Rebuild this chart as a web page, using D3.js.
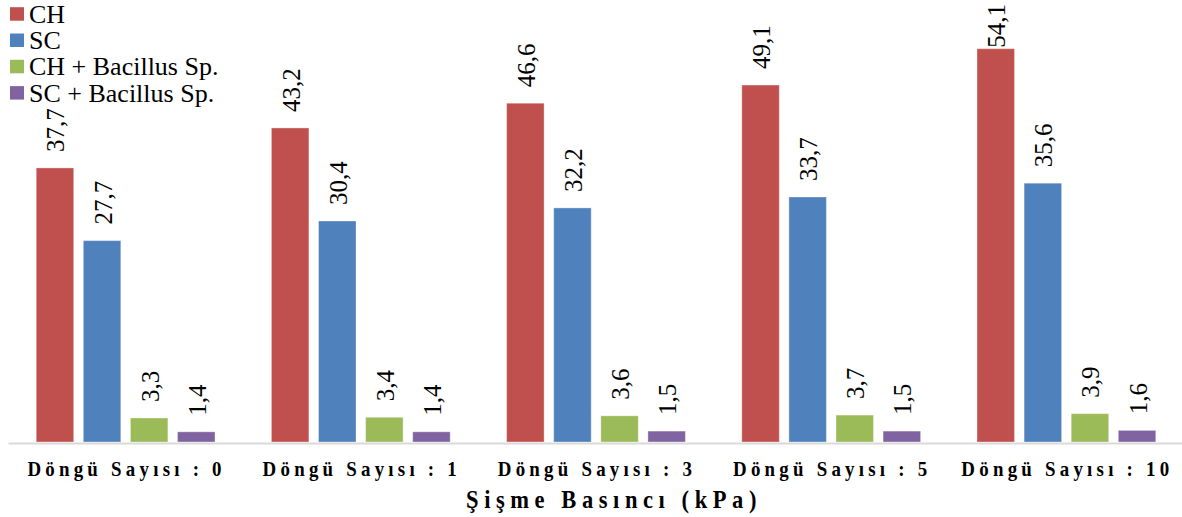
<!DOCTYPE html>
<html><head><meta charset="utf-8">
<script src="https://cdn.jsdelivr.net/npm/d3@7"></script>
<style>body{margin:0;background:#fff}svg{display:block}text{font-family:"Liberation Serif","Times New Roman",Times,"DejaVu Serif",serif}</style>
</head><body><svg id="c" width="1182" height="517"></svg>
<script>
const categories = ["Döngü Sayısı : 0","Döngü Sayısı : 1","Döngü Sayısı : 3","Döngü Sayısı : 5","Döngü Sayısı : 10"];
const seriesNames = ["CH","SC","CH + Bacillus Sp.","SC + Bacillus Sp."];
const chValues = [37.7,43.2,46.6,49.1,54.1];
const scValues = [27.7,30.4,32.2,33.7,35.6];
const chBacValues = [3.3,3.4,3.6,3.7,3.9];
const scBacValues = [1.4,1.4,1.5,1.5,1.6];
const colors = ["#C0504D","#4F81BD","#9BBB59","#8064A2"];
const axisTitle = "Şişme Basıncı (kPa)";
const yDomain = [0,60];

const allValues = [chValues,scValues,chBacValues,scBacValues];
const svg = d3.select("#c");

const x0 = d3.scaleBand().domain(categories).range([8,1184]).paddingInner(0).paddingOuter(0);
const x1 = d3.scaleBand().domain(seriesNames).range([0,x0.bandwidth()]).paddingInner(0.204).paddingOuter(0.599);
const y = d3.scaleLinear().domain(yDomain).range([442,5.8]);

const rows = [];
categories.forEach((c,i)=>seriesNames.forEach((s,j)=>rows.push({c,s,j,v:allValues[j][i]})));

// bars
svg.append("g").selectAll("rect").data(rows).join("rect")
  .attr("x",d=>x0(d.c)+x1(d.s))
  .attr("y",d=>y(d.v))
  .attr("width",x1.bandwidth())
  .attr("height",d=>y(0)-y(d.v))
  .attr("fill",d=>colors[d.j])
  .attr("stroke","rgba(255,255,255,0.35)").attr("stroke-width",1);

// axis line
const xa = svg.append("g").attr("transform",`translate(0,${y(0)+1})`).call(d3.axisBottom(x0).tickSize(0).tickFormat(""));
xa.select(".domain").attr("stroke","#D9D9D9").attr("stroke-width",2);

// category labels (condensed, letter-spaced)
svg.append("g").selectAll("text").data(categories).join("text")
  .attr("transform",d=>`translate(${x0(d)+x0.bandwidth()/2+1},476) scale(0.9,1)`)
  .attr("text-anchor","middle")
  .style("font-weight","bold").style("font-size","21px")
  .attr("letter-spacing","4.7px").attr("fill","#000")
  .text(d=>d);

// axis title
svg.append("text").attr("transform","translate(614,508) scale(0.9,1)").attr("text-anchor","middle")
  .style("font-weight","bold").style("font-size","25px")
  .attr("letter-spacing","6.2px").attr("fill","#000").text(axisTitle);

// data labels (rotated)
const fmt = v=>d3.format(".1f")(v).replace(".",",");
const lbl = svg.append("g").selectAll("text").data(rows).join("text")
  .style("font-size","25px").attr("fill","#000")
  .attr("text-anchor","start").attr("dominant-baseline","central")
  .text(d=>fmt(d.v));
lbl.each(function(d){
  const len = this.getComputedTextLength();
  let bottom = y(d.v)-16;
  if(bottom-len < 4) bottom = 4+len;
  const cx = x0(d.c)+x1(d.s)+x1.bandwidth()/2+1;
  d3.select(this).attr("transform",`translate(${cx},${bottom}) rotate(-90)`);
});

// legend
const lg = svg.append("g");
seriesNames.forEach((s,i)=>{
  const by = 22.7+i*26.3;
  lg.append("rect").attr("x",10).attr("y",by-15.5).attr("width",14).attr("height",13.5).attr("fill",colors[i]);
  lg.append("text").attr("x",29).attr("y",by).style("font-size","26px").attr("fill","#000").text(s);
});
</script></body></html>
